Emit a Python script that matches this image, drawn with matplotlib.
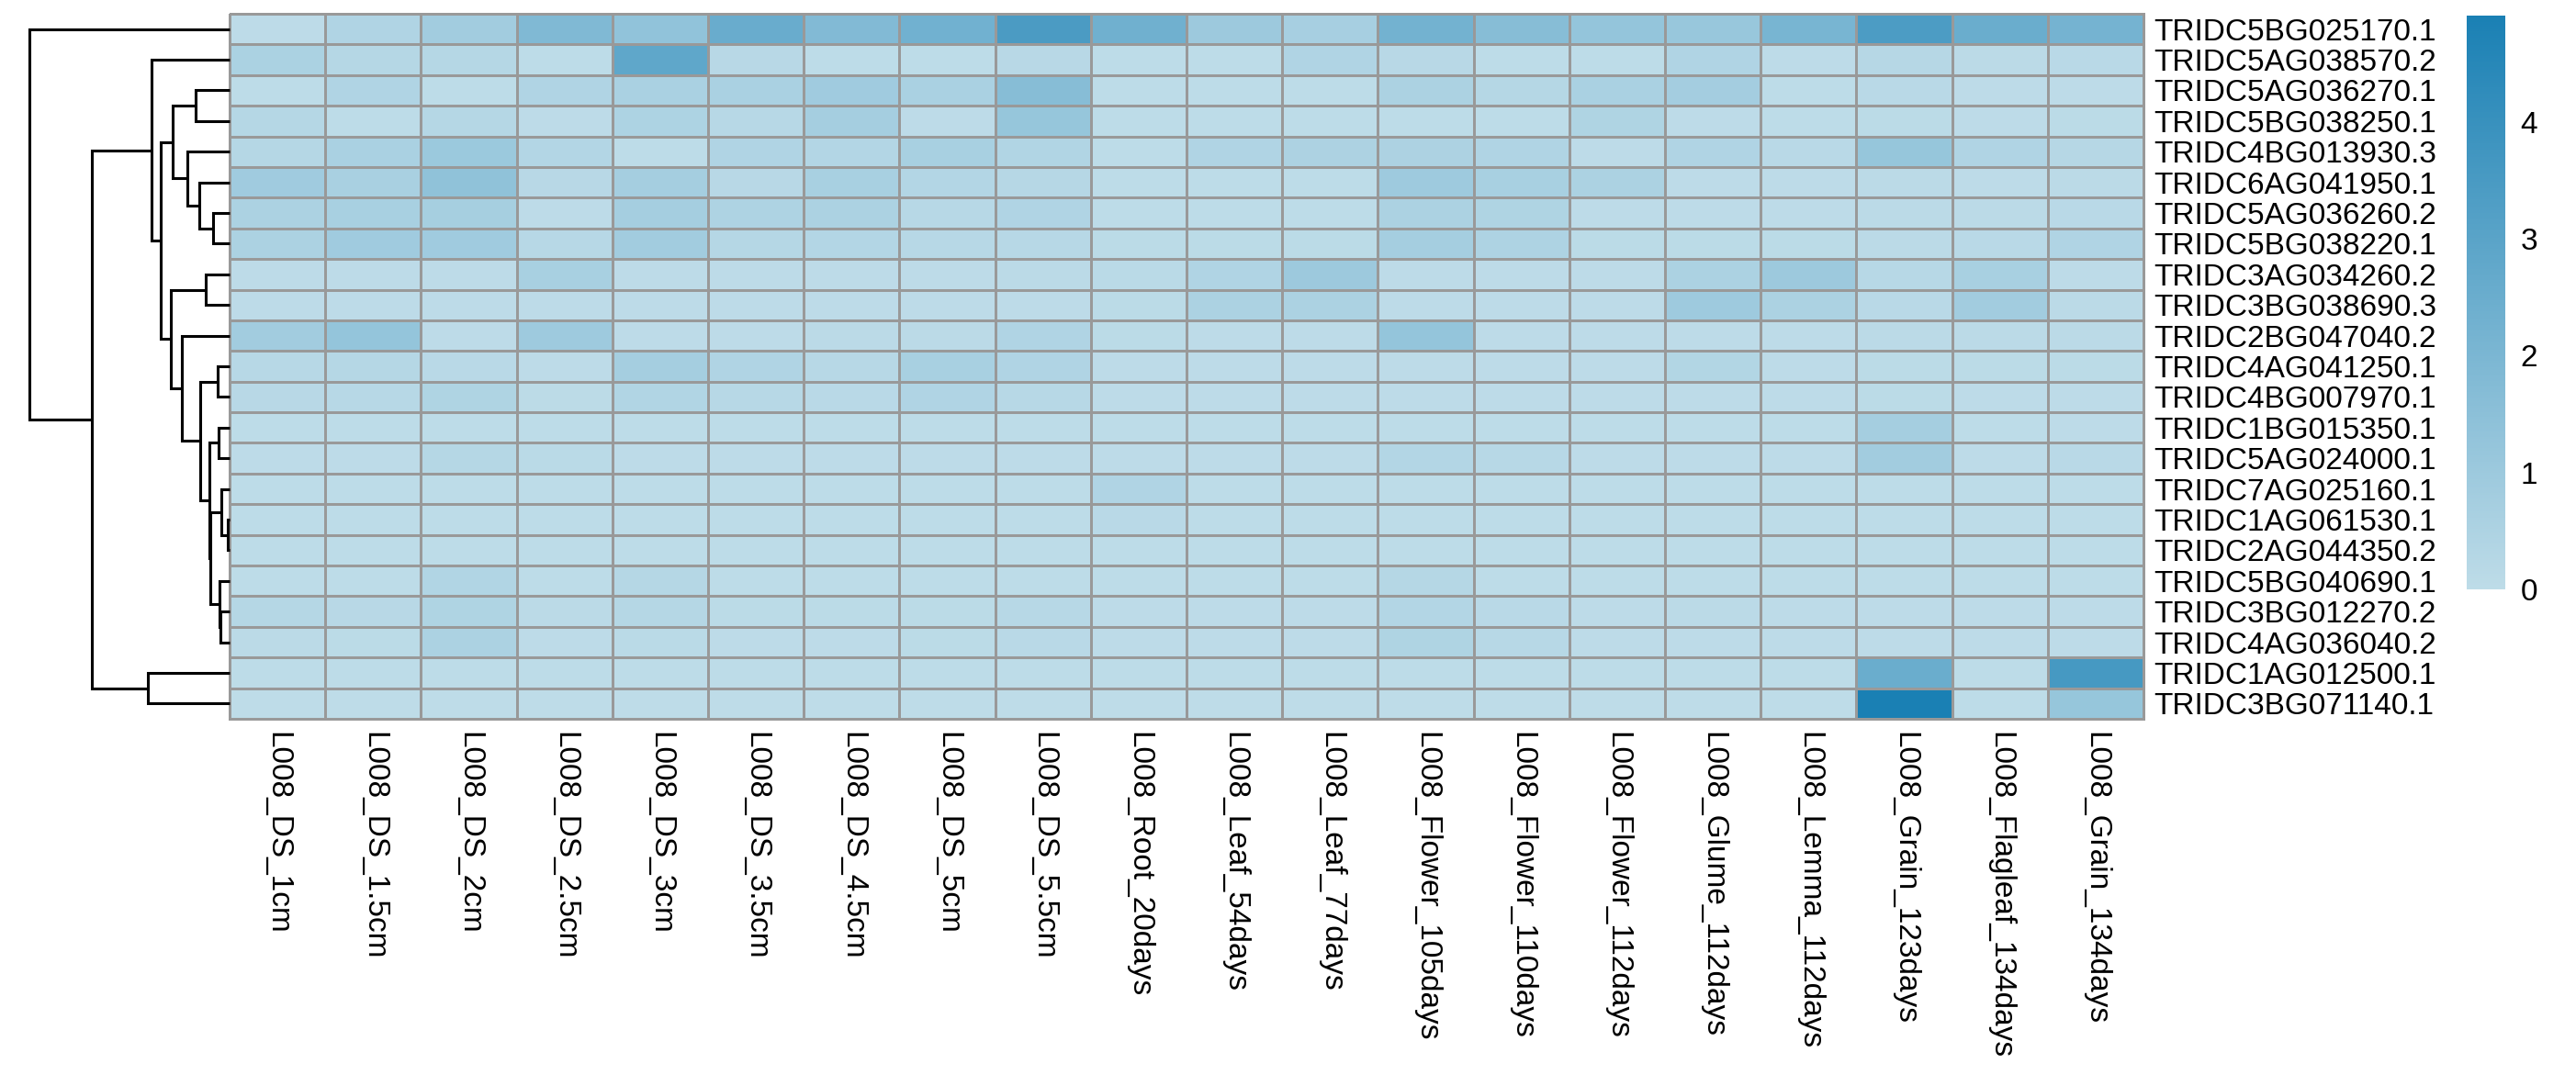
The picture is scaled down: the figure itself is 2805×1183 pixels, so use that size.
import numpy as np
import matplotlib
matplotlib.use("Agg")
import matplotlib.pyplot as plt
from matplotlib.colors import LinearSegmentedColormap

plt.rcParams['font.family'] = ['Liberation Sans', 'DejaVu Sans']

genes = ["TRIDC5BG025170.1", "TRIDC5AG038570.2", "TRIDC5AG036270.1", "TRIDC5BG038250.1",
         "TRIDC4BG013930.3", "TRIDC6AG041950.1", "TRIDC5AG036260.2", "TRIDC5BG038220.1",
         "TRIDC3AG034260.2", "TRIDC3BG038690.3", "TRIDC2BG047040.2", "TRIDC4AG041250.1",
         "TRIDC4BG007970.1", "TRIDC1BG015350.1", "TRIDC5AG024000.1", "TRIDC7AG025160.1",
         "TRIDC1AG061530.1", "TRIDC2AG044350.2", "TRIDC5BG040690.1", "TRIDC3BG012270.2",
         "TRIDC4AG036040.2", "TRIDC1AG012500.1", "TRIDC3BG071140.1"]

samples = ["L008_DS_1cm", "L008_DS_1.5cm", "L008_DS_2cm", "L008_DS_2.5cm", "L008_DS_3cm",
           "L008_DS_3.5cm", "L008_DS_4.5cm", "L008_DS_5cm", "L008_DS_5.5cm", "L008_Root_20days",
           "L008_Leaf_54days", "L008_Leaf_77days", "L008_Flower_105days", "L008_Flower_110days",
           "L008_Flower_112days", "L008_Glume_112days", "L008_Lemma_112days", "L008_Grain_123days",
           "L008_Flagleaf_134days", "L008_Grain_134days"]

expr = np.array([
    [0.05, 0.42, 0.85, 1.85, 1.35, 2.55, 1.80, 2.30, 3.45, 2.35, 1.00, 0.70, 2.25, 1.65, 1.25, 1.15, 2.10, 3.40, 2.50, 2.20],
    [0.57, 0.27, 0.27, 0.02, 2.85, 0.21, 0.03, 0.03, 0.21, 0.03, 0.03, 0.42, 0.21, 0.03, 0.03, 0.42, 0.05, 0.25, 0.10, 0.15],
    [0.02, 0.42, 0.02, 0.42, 0.60, 0.60, 0.90, 0.60, 1.65, 0.03, 0.03, 0.03, 0.55, 0.27, 0.60, 0.80, 0.03, 0.15, 0.05, 0.05],
    [0.27, 0.03, 0.27, 0.05, 0.50, 0.22, 0.75, 0.05, 1.20, 0.03, 0.03, 0.03, 0.03, 0.03, 0.45, 0.05, 0.03, 0.08, 0.05, 0.08],
    [0.27, 0.60, 1.05, 0.33, 0.03, 0.42, 0.33, 0.66, 0.40, 0.03, 0.42, 0.52, 0.52, 0.42, 0.05, 0.42, 0.15, 1.20, 0.42, 0.25],
    [0.90, 0.62, 1.40, 0.21, 0.75, 0.21, 0.66, 0.33, 0.25, 0.03, 0.03, 0.03, 0.95, 0.66, 0.55, 0.05, 0.05, 0.10, 0.05, 0.10],
    [0.55, 0.66, 0.72, 0.05, 0.75, 0.48, 0.55, 0.22, 0.42, 0.03, 0.03, 0.03, 0.55, 0.45, 0.05, 0.05, 0.05, 0.10, 0.10, 0.15],
    [0.55, 0.90, 0.90, 0.22, 0.85, 0.27, 0.33, 0.22, 0.22, 0.08, 0.08, 0.08, 0.75, 0.48, 0.08, 0.08, 0.08, 0.10, 0.15, 0.42],
    [0.05, 0.05, 0.05, 0.66, 0.05, 0.05, 0.05, 0.05, 0.10, 0.12, 0.42, 1.00, 0.05, 0.05, 0.05, 0.55, 1.00, 0.22, 0.66, 0.05],
    [0.05, 0.05, 0.05, 0.05, 0.05, 0.05, 0.05, 0.05, 0.05, 0.08, 0.55, 0.55, 0.05, 0.05, 0.05, 0.95, 0.55, 0.15, 0.85, 0.10],
    [0.85, 1.25, 0.05, 0.95, 0.05, 0.05, 0.10, 0.10, 0.42, 0.08, 0.05, 0.05, 1.25, 0.05, 0.05, 0.05, 0.05, 0.10, 0.10, 0.10],
    [0.22, 0.27, 0.15, 0.05, 0.75, 0.42, 0.22, 0.66, 0.42, 0.05, 0.05, 0.05, 0.05, 0.05, 0.05, 0.35, 0.05, 0.08, 0.08, 0.08],
    [0.20, 0.22, 0.45, 0.06, 0.40, 0.22, 0.15, 0.42, 0.22, 0.05, 0.05, 0.05, 0.05, 0.05, 0.05, 0.05, 0.05, 0.08, 0.05, 0.05],
    [0.03, 0.03, 0.03, 0.03, 0.03, 0.03, 0.03, 0.03, 0.03, 0.03, 0.03, 0.03, 0.03, 0.03, 0.03, 0.03, 0.03, 0.75, 0.03, 0.05],
    [0.05, 0.05, 0.27, 0.12, 0.05, 0.05, 0.05, 0.05, 0.05, 0.05, 0.05, 0.05, 0.33, 0.22, 0.05, 0.05, 0.05, 0.85, 0.05, 0.15],
    [0.03, 0.03, 0.03, 0.03, 0.03, 0.03, 0.03, 0.03, 0.03, 0.42, 0.03, 0.03, 0.03, 0.03, 0.03, 0.03, 0.03, 0.03, 0.03, 0.03],
    [0.03, 0.03, 0.03, 0.03, 0.03, 0.03, 0.03, 0.03, 0.03, 0.15, 0.03, 0.03, 0.03, 0.03, 0.03, 0.03, 0.03, 0.03, 0.03, 0.03],
    [0.02, 0.02, 0.02, 0.02, 0.02, 0.02, 0.02, 0.02, 0.02, 0.02, 0.02, 0.02, 0.02, 0.02, 0.02, 0.02, 0.02, 0.02, 0.02, 0.02],
    [0.03, 0.03, 0.40, 0.03, 0.27, 0.03, 0.03, 0.03, 0.03, 0.03, 0.03, 0.03, 0.27, 0.03, 0.03, 0.03, 0.03, 0.03, 0.03, 0.03],
    [0.27, 0.20, 0.45, 0.10, 0.27, 0.08, 0.08, 0.08, 0.22, 0.05, 0.05, 0.05, 0.33, 0.15, 0.05, 0.10, 0.05, 0.05, 0.05, 0.05],
    [0.10, 0.08, 0.55, 0.05, 0.12, 0.05, 0.05, 0.08, 0.15, 0.05, 0.05, 0.05, 0.45, 0.22, 0.05, 0.05, 0.05, 0.05, 0.05, 0.05],
    [0.03, 0.03, 0.03, 0.03, 0.03, 0.03, 0.03, 0.03, 0.03, 0.03, 0.03, 0.03, 0.03, 0.03, 0.03, 0.03, 0.03, 2.50, 0.03, 3.60],
    [0.00, 0.00, 0.00, 0.00, 0.00, 0.00, 0.00, 0.00, 0.00, 0.00, 0.00, 0.00, 0.00, 0.00, 0.00, 0.00, 0.00, 4.91, 0.03, 1.20],
])

# row tree: (left, right, height)
# nodes 0..22 are the genes, node 23+k is merge k
merges = [
    (16, 17, 1.7),
    (15, 23, 9.3),
    (19, 20, 10.0),
    (18, 25, 11.3),
    (24, 26, 20.7),
    (13, 14, 12.3),
    (28, 27, 22.3),
    (11, 12, 12.7),
    (30, 29, 31.7),
    (10, 31, 52.3),
    (8, 9, 25.7),
    (33, 32, 64.3),
    (6, 7, 17.7),
    (5, 35, 32.7),
    (4, 36, 46.3),
    (2, 3, 36.7),
    (38, 37, 61.7),
    (39, 34, 75.0),
    (1, 40, 85.3),
    (21, 22, 89.3),
    (41, 42, 149.3),
    (0, 43, 217.7),
]

cmap = LinearSegmentedColormap.from_list('blues', ['#BEDCE8', '#1A80B4'])

W, H = 2805, 1183
fig = plt.figure(figsize=(W / 100, H / 100), dpi=100)


def box(x0, y0, x1, y1):
    return [x0 / W, 1 - y1 / H, (x1 - x0) / W, (y1 - y0) / H]


n = len(genes)

# heatmap
ax = fig.add_axes(box(250, 15, 2334, 783))
mesh = ax.pcolormesh(expr, cmap=cmap, vmin=0, vmax=expr.max(),
                     edgecolors='#999999', linewidth=2.0)
mesh.set_clip_on(False)
ax.set_xlim(0, len(samples))
ax.set_ylim(n, 0)
ax.set_xticks(np.arange(len(samples)) + 0.5)
ax.set_xticklabels(samples, rotation=270, fontsize=24)
ax.set_yticks(np.arange(n) + 0.5)
ax.set_yticklabels(genes, fontsize=24)
ax.yaxis.tick_right()
ax.tick_params(axis='x', length=0, pad=10)
ax.tick_params(axis='y', length=0, pad=8)
for s in ax.spines.values():
    s.set_visible(False)

# dendrogram
dax = fig.add_axes(box(32, 15, 250, 783))
pos = {i: i + 0.5 for i in range(n)}
hgt = {i: 0.0 for i in range(n)}
for k, (a, b, h) in enumerate(merges):
    dax.plot([hgt[a], h, h, hgt[b]], [pos[a], pos[a], pos[b], pos[b]],
             color='black', lw=2.2, clip_on=False,
             solid_joinstyle='miter', solid_capstyle='butt')
    pos[n + k] = (pos[a] + pos[b]) / 2
    hgt[n + k] = h
dax.set_xlim(max(hgt.values()), 0)
dax.set_ylim(n, 0)
dax.axis('off')

# legend
cax = fig.add_axes(box(2686, 17, 2728, 642))
cb = fig.colorbar(mesh, cax=cax, ticks=[0, 1, 2, 3, 4])
cb.outline.set_visible(False)
cax.tick_params(length=0, pad=12, labelsize=24)

fig.savefig("out.png", dpi=100)
